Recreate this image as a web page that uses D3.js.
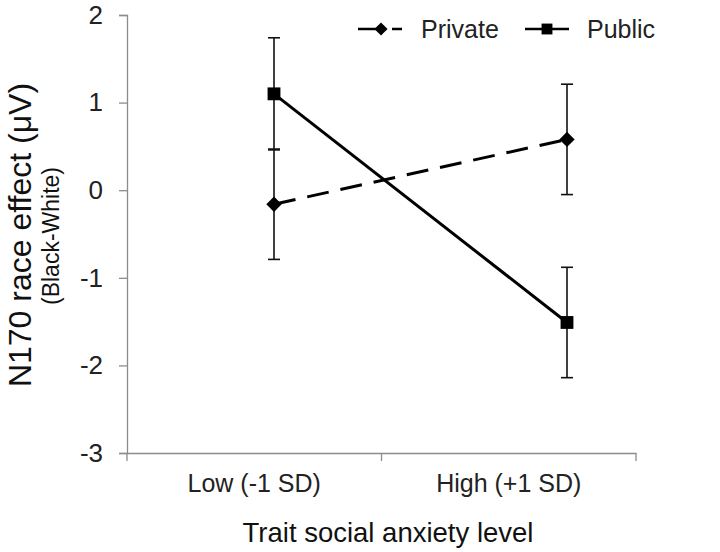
<!DOCTYPE html>
<html><head><meta charset="utf-8">
<script src="https://cdn.jsdelivr.net/npm/d3@7"></script>
<style>body{margin:0;background:#fff}svg{display:block}text{font-family:"Liberation Sans",Arial,sans-serif}</style>
</head><body>
<svg id="c" width="720" height="552"></svg>
<script>
const categories = ["Low (-1 SD)", "High (+1 SD)"];
const seriesNames = ["Private", "Public"];
const privateVals = [-0.16, 0.58];
const publicVals = [1.10, -1.51];
const privateErr = [0.63, 0.63];
const publicErr = [0.64, 0.63];
const yTicks = [2, 1, 0, -1, -2, -3];

const svg = d3.select("#c");
const axisColor = "#8c8c8c";
const FF = "Liberation Sans, Arial, sans-serif";
const y = d3.scaleLinear().domain([-3, 2]).range([453, 15]);
const xBand = d3.scaleBand().domain(categories).range([127, 636]);
const xPt = d3.scalePoint().domain(categories).range([274, 567]);

// y axis
const ya = svg.append("g").attr("transform", "translate(127,0)")
  .call(d3.axisLeft(y).tickValues(yTicks).tickSize(8).tickPadding(16).tickFormat(d => String(d)));
ya.select(".domain").attr("stroke", axisColor).attr("stroke-width", 1.3);
ya.selectAll(".tick line").attr("stroke", axisColor).attr("stroke-width", 1.3);
ya.selectAll(".tick text").attr("font-size", 26).attr("fill", "#222").attr("font-family", FF);

// x axis
const xa = svg.append("g").attr("transform", "translate(0,453)")
  .call(d3.axisBottom(xBand).tickSize(0).tickPadding(21));
xa.select(".domain").attr("stroke", axisColor).attr("stroke-width", 1.3);
xa.selectAll(".tick text").attr("font-size", 25).attr("fill", "#222").attr("font-family", FF);
const bounds = [127].concat(categories.map(c => xBand(c) + xBand.bandwidth()));
xa.selectAll("line.bt").data(bounds).enter().append("line").attr("class", "bt")
  .attr("x1", d => d).attr("x2", d => d).attr("y1", 0).attr("y2", 8)
  .attr("stroke", axisColor).attr("stroke-width", 1.3);

// titles
svg.append("text").attr("x", 388).attr("y", 542).attr("text-anchor", "middle")
  .attr("font-size", 27.5).attr("fill", "#111").text("Trait social anxiety level");
svg.append("text").attr("transform", "translate(31,235) rotate(-90)").attr("text-anchor", "middle")
  .attr("font-size", 32).attr("fill", "#111").text("N170 race effect (μV)");
svg.append("text").attr("transform", "translate(59,236) rotate(-90)").attr("text-anchor", "middle")
  .attr("font-size", 23).attr("fill", "#111").text("(Black-White)");

const series = [
  {name: seriesNames[0], vals: privateVals, err: privateErr, dash: "22,12", marker: "diamond"},
  {name: seriesNames[1], vals: publicVals, err: publicErr, dash: null, marker: "square"}
];

// error bars
series.forEach(s => {
  const g = svg.append("g");
  categories.forEach((c, i) => {
    const cx = xPt(c), v = s.vals[i], e = s.err[i];
    g.append("line").attr("x1", cx).attr("x2", cx).attr("y1", y(v + e)).attr("y2", y(v - e))
      .attr("stroke", "#111").attr("stroke-width", 1.6);
    [v + e, v - e].forEach(t => g.append("line").attr("x1", cx - 6).attr("x2", cx + 6)
      .attr("y1", y(t)).attr("y2", y(t)).attr("stroke", "#111").attr("stroke-width", 1.6));
  });
});

const line = d3.line().x((d, i) => xPt(categories[i])).y(d => y(d));
const diamond = d3.symbol().type(d3.symbolDiamond2).size(150);
const square = d3.symbol().type(d3.symbolSquare2).size(210);

series.forEach(s => {
  svg.append("path").datum(s.vals).attr("d", line).attr("fill", "none")
    .attr("stroke", "#000").attr("stroke-width", 3)
    .attr("stroke-dasharray", s.dash);
  svg.selectAll(null).data(s.vals).enter().append("path")
    .attr("transform", (d, i) => `translate(${xPt(categories[i])},${y(d)})`)
    .attr("d", s.marker === "diamond" ? diamond : square).attr("fill", "#000");
});

// legend
const legend = [
  {name: seriesNames[0], x0: 358, x1: 402, mx: 381, tx: 421, dash: "20,14", sym: d3.symbol().type(d3.symbolDiamond2).size(110)},
  {name: seriesNames[1], x0: 525, x1: 569, mx: 547, tx: 587, dash: null, sym: d3.symbol().type(d3.symbolSquare2).size(150)}
];
legend.forEach(l => {
  svg.append("line").attr("x1", l.x0).attr("x2", l.x1).attr("y1", 29).attr("y2", 29)
    .attr("stroke", "#000").attr("stroke-width", 2.5).attr("stroke-dasharray", l.dash);
  svg.append("path").attr("transform", `translate(${l.mx},29)`).attr("d", l.sym).attr("fill", "#000");
  svg.append("text").attr("x", l.tx).attr("y", 38).attr("font-size", 25).attr("fill", "#222").text(l.name);
});
</script>
</body></html>
